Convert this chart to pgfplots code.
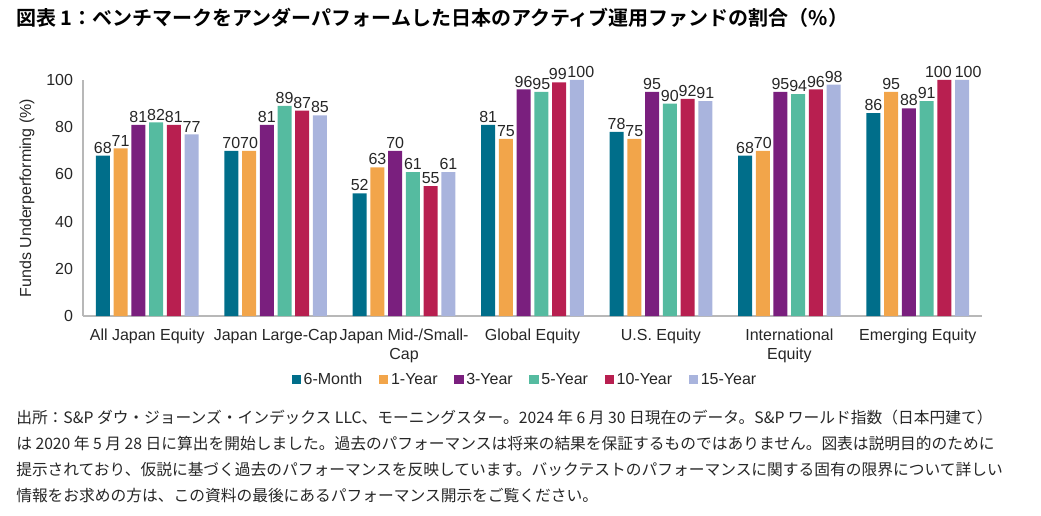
\documentclass[border=0pt]{standalone}
\usepackage{fontspec}
\setmainfont{Liberation Sans}
\newfontfamily\jp{Noto Sans CJK JP}
\newfontfamily\jpb{Noto Sans CJK JP Bold}
\usepackage{pgfplots}
\usepackage{pgfplotstable}
\pgfplotsset{compat=1.18}
\definecolor{c1}{HTML}{006E8A}
\definecolor{c2}{HTML}{F2A54A}
\definecolor{c3}{HTML}{7A1F7E}
\definecolor{c4}{HTML}{55BBA0}
\definecolor{c5}{HTML}{B81F50}
\definecolor{c6}{HTML}{A9B4DD}
\definecolor{txt}{HTML}{262626}
% s10, s15: horizontal label offsets (pt) so that neighbouring labels do not collide
\pgfplotstableread{
x m6 y1 y3 y5 y10 y15 s10 s15
0 68 71 81 82 81 77 0 0
1 70 70 81 89 87 85 0 0
2 52 63 70 61 55 61 0 0
3 81 75 96 95 99 100 -1 3
4 78 75 95 90 92 91 0 0
5 68 70 95 94 96 98 0 0
6 86 95 88 91 100 100 -4.5 4.5
}\datatable
\pgfplotsset{sq legend/.style={legend image code/.code={\fill[##1] (0pt,-3.5pt) rectangle (7pt,3.5pt);}}}
\begin{document}
\begin{tikzpicture}
\path[use as bounding box] (0,0) rectangle (780.75pt,-387pt);
\node[anchor=west, inner sep=0, text=black] at (12pt,-13.5pt) {\jpb\fontsize{15}{18}\selectfont 図表 1：ベンチマークをアンダーパフォームした日本のアクティブ運用ファンドの割合（\%）};
\begin{axis}[
  at={(62.25pt,-237pt)}, anchor=south west,
  scale only axis, width=674.25pt, height=177pt,
  ybar=2.8pt, bar width=10.5pt,
  xmin=-0.5, xmax=6.5, ymin=0, ymax=100,
  ytick={0,20,...,100},
  xtick={0,...,6},
  xticklabels={All Japan Equity, Japan Large-Cap, {Japan Mid-/Small-\\Cap}, Global Equity, U.S. Equity, {International\\Equity}, Emerging Equity},
  /pgf/number format/assume math mode=true,
  axis x line*=bottom, axis y line*=left,
  axis line style={draw=black!28, -, line width=0.8pt},
  tick style={draw=none},
  clip=false,
  tick label style={font=\fontsize{12}{14.25}\selectfont, text=txt},
  xticklabel style={align=center, yshift=-2pt},
  yticklabel style={xshift=-4pt},
  ylabel={Funds Underperforming (\%)},
  ylabel style={at={(axis description cs:-0.0623,0.5)}, anchor=center, font=\fontsize{12}{14}\selectfont, text=txt},
  nodes near coords,
  every node near coord/.append style={font=\fontsize{12}{14}\selectfont, text=txt, inner sep=1.5pt},
  legend columns=6,
  legend style={draw=none, at={(axis description cs:0.492,-0.27)}, anchor=center, font=\fontsize{12}{14}\selectfont, text=txt,
    /tikz/every even column/.append style={column sep=10.5pt}},
]
\addplot[fill=c1, draw=none, sq legend] table[x=x,y=m6]{\datatable};
\addplot[fill=c2, draw=none, sq legend] table[x=x,y=y1]{\datatable};
\addplot[fill=c3, draw=none, sq legend] table[x=x,y=y3]{\datatable};
\addplot[fill=c4, draw=none, sq legend] table[x=x,y=y5]{\datatable};
\addplot[fill=c5, draw=none, sq legend, visualization depends on={\thisrow{s10}\as\sh}, nodes near coords style={xshift=\sh pt}] table[x=x,y=y10]{\datatable};
\addplot[fill=c6, draw=none, sq legend, visualization depends on={\thisrow{s15}\as\sh}, nodes near coords style={xshift=\sh pt}] table[x=x,y=y15]{\datatable};
\legend{6-Month,1-Year,3-Year,5-Year,10-Year,15-Year}
\end{axis}
\begin{scope}[every node/.style={anchor=west, inner sep=0, text=txt, font=\jp\fontsize{11.8}{14}\selectfont}]
\node at (12pt,-313.5pt) {出所：S\&P ダウ・ジョーンズ・インデックス LLC、モーニングスター。2024 年 6 月 30 日現在のデータ。S\&P ワールド指数（日本円建て）};
\node at (12pt,-333pt) {は 2020 年 5 月 28 日に算出を開始しました。過去のパフォーマンスは将来の結果を保証するものではありません。図表は説明目的のために};
\node at (12pt,-352.5pt) {提示されており、仮説に基づく過去のパフォーマンスを反映しています。バックテストのパフォーマンスに関する固有の限界について詳しい};
\node at (12pt,-372pt) {情報をお求めの方は、この資料の最後にあるパフォーマンス開示をご覧ください。};
\end{scope}
\end{tikzpicture}
\end{document}
